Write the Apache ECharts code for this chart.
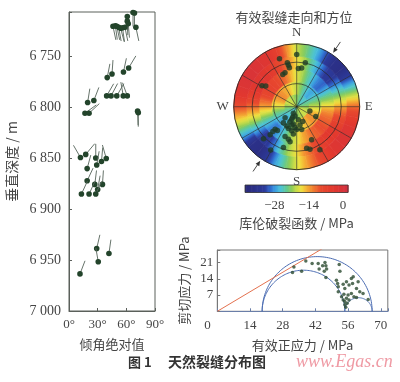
<!DOCTYPE html>
<html><head><meta charset="utf-8">
<script src="https://cdn.jsdelivr.net/npm/echarts@6/dist/echarts.min.js"></script>
<style>html,body{margin:0;padding:0;background:#fff}#c{width:400px;height:382px}</style>
</head><body><div id="c"></div><script>
// ---------- Left panel: tadpole plot (dip vs depth, tail = dip azimuth)
const dipAbs = [67,68.5,61,61,62,46,48.5,50,52,54,56,58.5,70, 40,45,57,62.4, 39.4,44,50,56.8,61, 19.5,26,16.7,21,71.8,72.5, 12,17.5,28,29,34,39,19, 19,27,30,35,13,21,28, 29,30.6,41.8,11.5];
const depth = [6706.5,6707,6710.5,6715,6717.5,6720,6719.5,6720,6721,6722,6721.5,6721,6721, 6770.5,6767,6765,6761, 6788.5,6788.5,6788.5,6788.5,6788.5, 6795,6793,6805.5,6805.5,6803.5,6805, 6849,6846,6849.5,6856.5,6853,6850,6860, 6872,6875.5,6880.5,6875.5,6885,6885,6885, 6938.5,6951.5,6943.5,6963.5];
const tailAz = [180,180,178,178,175,168,172,168,170,165,172,168,168, 11,4,12,31, 30,28,30,350,340, 9,21,54,47,178,180, 330,40,0,10,5,344,15, 25,7,10,4,25,25,25, 13,350,8,21];

// ---------- Stereonet: Coulomb failure function field (MPa), by ring radius and azimuth
const fieldAz = [0,10,20,30,40,50,60,70,80,90,100,110,120,130,140,150,160,170,180,190,200,210,220,230,240,250,260,270,280,290,300,310,320,330,340,350];
const fieldRing = [0.1,0.3,0.5,0.7,0.9];
const fieldR1 = [-21,-22,-23,-24,-25,-25,-24,-23,-22,-21,-20,-19,-19,-19,-19,-20,-20,-21,-21,-22,-23,-24,-25,-25,-24,-23,-22,-21,-20,-19,-19,-19,-19,-20,-20,-21];
const fieldR3 = [-19,-21,-23,-25,-27,-27,-25,-23,-21,-19,-17,-15,-14,-13,-14,-15,-16,-18,-19,-21,-23,-25,-27,-27,-25,-23,-21,-18,-16,-14,-13,-13,-14,-15,-16,-18];
const fieldR5 = [-18,-20,-23,-26,-29,-30,-27,-23,-20,-16,-13,-11,-10,-9,-10,-11,-13,-15,-18,-20,-23,-26,-29,-29,-26,-22,-18,-14,-11,-8,-7,-7,-8,-10,-12,-15];
const fieldR7 = [-17,-20,-24,-28,-32,-33,-29,-24,-19,-14,-10,-7,-5,-4,-5,-7,-10,-13,-17,-20,-24,-29,-33,-32,-27,-21,-16,-11,-7,-4,-3,-3,-4,-6,-9,-13];
const fieldR9 = [-19,-22,-26,-31,-36,-37,-32,-25,-18,-11,-6,-3,-2,-2,-3,-6,-10,-14,-18,-22,-27,-33,-37,-36,-28,-21,-15,-9,-4,-2,-1,-1,-2,-3,-6,-13];
const fieldRows = [fieldR1, fieldR3, fieldR5, fieldR7, fieldR9];
// fracture poles (azimuth deg, equal-area radius 0..1)
const poleAz = [340.3,0,348,348.7,349.4,341,336.6,2.5,7.3,11.1,301,303.7, 108,117,206.6,190,201.5,226.7,219.8,204,191,184.6,201,191.8,180,167.6, 158,172.9,223.7,223.8,218.9,223.3,225.9,201.3,194.3,190.7,187,155.8,198,211,166.5,162.6,151.7,200.6,169.7,195,207];
const poleR = [0.81,0.83,0.715,0.67,0.63,0.57,0.556,0.606,0.62,0.71,0.644,0.59, 0.22,0.34,0.118,0.15,0.215,0.253,0.33,0.26,0.28,0.33,0.37,0.39,0.36,0.37, 0.255,0.21,0.495,0.547,0.487,0.614,0.733,0.508,0.532,0.568,0.435,0.577,0.68,0.8,0.677,0.706,0.777,0.18,0.294,0.3,0.344];
const ringR = [0.366, 0.707, 1];           // 30°, 60°, 90° dip (equal-area)
const spokeAz = [0,30,60,90,120,150,180,210,240,270,300,330];
const arrowAz = [34, 214];
const compass = {0:'N', 90:'E', 180:'S', 270:'W'};
// colour scale
const cbMin = -40, cbMax = 2;
const cbTicks = [-28, -14, 0];
const cmapStops = [[-40,'#2a2878'],[-32,'#2c3a9a'],[-30,'#2f62c8'],[-28,'#3a98e0'],[-25.5,'#4cc4d8'],[-23,'#62c892'],[-21,'#8ccc58'],[-19,'#c8dc48'],[-17,'#f0e040'],[-15,'#f4b434'],[-12,'#f07a30'],[-9,'#e84a2e'],[-4,'#e2382e'],[2,'#d03040']];

// ---------- Mohr diagram
const sigma1 = 66.3, sigma2 = 54.6, sigma3 = 19.2;
const frictionX = [0, 73], frictionY = [0, 43.8];
const normalStress = [32.8,32.2,36.1,37.9,40.6,43.2,43.6,45.1,46.1,46.5,46.8,45.8,52.2,52.5,46.5,51.0,51.5,51.8,53.9,54.6,55.3,56.4,57.4,58.2,57.9,59.6,60.3,61.0,62.4,64.6,57.4,56.0,55.3,54.6,53.9,54.6,55.6,56.4,53.2,51.8,58.5,59.6,55.0,54.2];
const shearStress = [19.1,16.7,17.3,21.7,20.6,20.6,18.2,19.6,21.0,19.6,18.2,17.3,20.2,17.3,14.6,13.4,12.0,10.6,11.6,9.8,12.7,11.3,14.1,14.9,12.0,9.8,12.7,8.4,7.7,5.1,7.7,7.0,5.6,4.2,4.9,2.8,3.5,4.9,6.3,8.4,6.3,5.9,1.7,7.3];

// ---------- helpers
function hex(h){return [parseInt(h.slice(1,3),16),parseInt(h.slice(3,5),16),parseInt(h.slice(5,7),16)];}
const stopsRGB = cmapStops.map(s=>[s[0],hex(s[1])]);
function cmap(v){
  if (v <= stopsRGB[0][0]) v = stopsRGB[0][0];
  if (v >= stopsRGB[stopsRGB.length-1][0]) v = stopsRGB[stopsRGB.length-1][0];
  for (let i=0;i<stopsRGB.length-1;i++){
    const a=stopsRGB[i], b=stopsRGB[i+1];
    if (v>=a[0] && v<=b[0]){
      const t=(v-a[0])/(b[0]-a[0]||1);
      const c=a[1].map((x,k)=>Math.round(x+(b[1][k]-x)*t));
      return 'rgb('+c.join(',')+')';
    }
  }
  return '#000';
}
const serif='Liberation Serif', cjk='Noto Sans CJK SC', txt='#454545';

const tadpoles = dipAbs.map((d,i)=>[d, depth[i], tailAz[i]]);
const cells = [];
fieldRows.forEach((row,i)=>{ fieldAz.forEach((a,j)=>{ cells.push([fieldRing[i], a, row[j], row[(j+1)%row.length]]); }); });
const poles = poleAz.map((a,i)=>[poleR[i], a]);
const mohrPts = normalStress.map((s,i)=>[s, shearStress[i]]);
const circles = [[sigma3,sigma1],[sigma3,sigma2],[sigma2,sigma1]];
const cbSteps = []; for (let v=cbMin; v<cbMax; v+=0.5) cbSteps.push([v,0]);

const chart = echarts.init(document.getElementById('c'));
chart.setOption({
  animation:false,
  grid:[
    {left:69, top:12, width:86, height:299, show:true, borderColor:'#5b605b', borderWidth:1, outerBoundsMode:'none'},
    {left:217.3, top:250, width:170.5, height:61.3, show:true, borderColor:'#777', borderWidth:1, outerBoundsMode:'none'},
    {left:245, top:185, width:103, height:7.5, outerBoundsMode:'none'}
  ],
  polar:{center:[296.7,106.7], radius:63},
  angleAxis:{type:'value', min:0, max:360, startAngle:90, clockwise:true, interval:90,
    axisLine:{show:false}, axisTick:{show:false}, splitLine:{show:false},
    axisLabel:{formatter:v=>compass[v]||'', margin:5, fontFamily:serif, fontSize:13, color:txt}},
  radiusAxis:{type:'value', min:0, max:1, axisLine:{show:false}, axisTick:{show:false}, axisLabel:{show:false}, splitLine:{show:false}},
  xAxis:[
    {gridIndex:0, type:'value', min:0, max:90, interval:30,
      axisLine:{lineStyle:{color:'#5b605b'}}, axisTick:{inside:true, length:3, lineStyle:{color:'#5b605b'}},
      axisLabel:{formatter:v=>v+'°', fontFamily:serif, fontSize:13, color:txt, margin:7, showMinLabel:true, showMaxLabel:true}, splitLine:{show:false},
      name:'倾角绝对值', nameLocation:'middle', nameGap:27, nameTextStyle:{fontFamily:cjk, fontSize:13, color:txt}},
    {gridIndex:1, type:'value', min:0, max:73, interval:14,
      axisLine:{lineStyle:{color:'#6a7ea8'}}, axisTick:{inside:true, length:3, lineStyle:{color:'#6a7ea8'}},
      axisLabel:{formatter:v=> v===0 ? '0      ' : ((v%14===0)?String(v):''), fontFamily:serif, fontSize:13, color:txt, margin:8, showMinLabel:true}, splitLine:{show:false},
      name:'有效正应力 / MPa', nameLocation:'middle', nameGap:27, nameTextStyle:{fontFamily:cjk, fontSize:13, color:txt}},
    {gridIndex:2, type:'value', min:cbMin, max:cbMax, interval:2,
      axisLine:{show:false}, axisTick:{show:false}, splitLine:{show:false},
      axisLabel:{formatter:v=>cbTicks.indexOf(v)>=0 ? (v<0?'\u2212'+(-v):'0') : '', fontFamily:serif, fontSize:13, color:txt, margin:7},
      name:'库伦破裂函数 / MPa', nameLocation:'middle', nameGap:24, nameTextStyle:{fontFamily:cjk, fontSize:13, color:txt}}
  ],
  yAxis:[
    {gridIndex:0, type:'value', inverse:true, min:6706, max:7000, splitNumber:6,
      axisLine:{lineStyle:{color:'#5b605b'}}, axisTick:{inside:true, length:3, lineStyle:{color:'#5b605b'}},
      axisLabel:{formatter:v=>{ if (v%50!==0) return ''; const s=String(v); return s.slice(0,1)+' '+s.slice(1);}, fontFamily:serif, fontSize:14, color:txt, margin:8, showMaxLabel:true},
      splitLine:{show:false},
      name:'垂直深度 / m', nameLocation:'middle', nameGap:50, nameRotate:90, nameTextStyle:{fontFamily:cjk, fontSize:14, color:txt}},
    {gridIndex:1, type:'value', min:0, max:26.4, interval:7,
      axisLine:{lineStyle:{color:'#777'}}, axisTick:{inside:true, length:3, lineStyle:{color:'#777'}},
      axisLabel:{formatter:v=> (v>0 && v%7===0)?String(v):'', fontFamily:serif, fontSize:13, color:txt, margin:4},
      splitLine:{show:false},
      name:'剪切应力 / MPa', nameLocation:'middle', nameGap:27, nameRotate:90, nameTextStyle:{fontFamily:cjk, fontSize:13, color:txt}},
    {gridIndex:2, type:'value', min:0, max:1, show:false}
  ],
  series:[
    {type:'custom', xAxisIndex:0, yAxisIndex:0, data:tadpoles, z:3,
      renderItem:(params, api)=>{
        const p=api.coord([api.value(0), api.value(1)]);
        const a=api.value(2)*Math.PI/180, L=14;
        return {type:'group', children:[
          {type:'line', shape:{x1:p[0], y1:p[1], x2:p[0]+L*Math.sin(a), y2:p[1]-L*Math.cos(a)}, style:{stroke:'#56645a', lineWidth:0.9}},
          {type:'circle', shape:{cx:p[0], cy:p[1], r:2.8}, style:{fill:'#23442b'}}
        ]};
      }},
    {type:'custom', coordinateSystem:'polar', polarIndex:0, data:cells, z:1,
      renderItem:(params, api)=>{
        const r=api.value(0), a=api.value(1), v0=api.value(2), v1=api.value(3);
        const c=api.coord([0,0]); const t=api.coord([1,0]);
        const k=Math.hypot(t[0]-c[0], t[1]-c[1]);
        const pa=api.coord([r,a]), pb=api.coord([r,a+10]);
        const stops=[0,0.25,0.5,0.75,1].map(s=>({offset:s, color:cmap(v0+(v1-v0)*s)}));
        const g=new echarts.graphic.LinearGradient(pa[0],pa[1],pb[0],pb[1],stops,true);
        return {type:'sector', shape:{cx:c[0], cy:c[1], r0:Math.max(0,r-0.1)*k, r:(r+0.1)*k,
          startAngle:(a-90)*Math.PI/180, endAngle:(a+10-90)*Math.PI/180, clockwise:true},
          style:{fill:g, stroke:g, lineWidth:0.7}};
      }},
    {type:'custom', coordinateSystem:'polar', polarIndex:0, data:[[0,0]], z:4,
      renderItem:(params, api)=>{
        const c=api.coord([0,0]); const t=api.coord([1,0]);
        const k=Math.hypot(t[0]-c[0], t[1]-c[1]);
        const ch=[];
        ringR.forEach(rr=>ch.push({type:'circle', shape:{cx:c[0], cy:c[1], r:rr*k}, style:{fill:'none', stroke:'#262626', lineWidth:rr===1?0.9:0.7}}));
        spokeAz.forEach(az=>{ const p=api.coord([1,az]); ch.push({type:'line', shape:{x1:c[0], y1:c[1], x2:p[0], y2:p[1]}, style:{stroke:'#262626', lineWidth:0.6}}); });
        arrowAz.forEach(az=>{
          const p0=api.coord([1.24,az]), p1=api.coord([1.035,az]);
          const dx=p1[0]-p0[0], dy=p1[1]-p0[1], len=Math.hypot(dx,dy), ux=dx/len, uy=dy/len;
          const bx=p1[0]-ux*5, by=p1[1]-uy*5;
          ch.push({type:'line', shape:{x1:p0[0], y1:p0[1], x2:bx, y2:by}, style:{stroke:'#333', lineWidth:0.9}});
          ch.push({type:'polygon', shape:{points:[[p1[0],p1[1]],[bx-uy*2.2,by+ux*2.2],[bx+uy*2.2,by-ux*2.2]]}, style:{fill:'#333'}});
        });
        return {type:'group', children:ch};
      }},
    {type:'scatter', coordinateSystem:'polar', polarIndex:0, data:poles, symbolSize:5.5, z:5,
      itemStyle:{color:'#1f3c25'}},
    {type:'custom', xAxisIndex:1, yAxisIndex:1, data:circles, z:3,
      renderItem:(params, api)=>{
        const s3=api.value(0), s1=api.value(1), cx=(s1+s3)/2, R=(s1-s3)/2;
        const pts=[]; for (let i=0;i<=90;i++){ const th=Math.PI*i/90; pts.push(api.coord([cx+R*Math.cos(th), R*Math.sin(th)])); }
        return {type:'polyline', shape:{points:pts}, style:{fill:'none', stroke:'#4b6cb2', lineWidth:1}};
      }},
    {type:'line', xAxisIndex:1, yAxisIndex:1, data:frictionX.map((x,i)=>[x, frictionY[i]]), showSymbol:false, clip:true, z:3,
      lineStyle:{color:'#e3714f', width:1}},
    {type:'scatter', xAxisIndex:1, yAxisIndex:1, data:mohrPts, symbolSize:3.5, z:4, itemStyle:{color:'#2a4a30'}},
    {type:'custom', xAxisIndex:2, yAxisIndex:2, data:cbSteps, z:2,
      renderItem:(params, api)=>{
        const v=api.value(0); const p0=api.coord([v,0]), p1=api.coord([v+0.5,1]);
        return {type:'rect', shape:{x:p0[0], y:p1[1], width:p1[0]-p0[0]+0.6, height:p0[1]-p1[1]}, style:{fill:cmap(v+0.25)}};
      }},
    {type:'custom', xAxisIndex:2, yAxisIndex:2, data:[[cbMin,0]], z:3,
      renderItem:(params, api)=>{
        const p0=api.coord([cbMin,0]), p1=api.coord([cbMax,1]);
        return {type:'rect', shape:{x:p0[0], y:p1[1], width:p1[0]-p0[0], height:p0[1]-p1[1]}, style:{fill:'none', stroke:'#333', lineWidth:0.8}};
      }}
  ],
  graphic:[
    {type:'text', x:294, y:17, style:{text:'有效裂缝走向和方位', textAlign:'center', textVerticalAlign:'middle', font:'13px "Noto Sans CJK SC"', fill:txt}},
    {type:'text', x:128, y:362, style:{text:'图 1', textVerticalAlign:'middle', font:'bold 13px "Noto Sans CJK SC"', fill:'#333'}},
    {type:'text', x:168, y:362, style:{text:'天然裂缝分布图', textVerticalAlign:'middle', font:'bold 14px "Noto Sans CJK SC"', fill:'#333'}},
    {type:'text', x:296, y:362, style:{text:'www.Egas.cn', textVerticalAlign:'middle', font:'italic 18px "Liberation Serif"', fill:'#ef9aa4'}}
  ]
});
</script></body></html>
